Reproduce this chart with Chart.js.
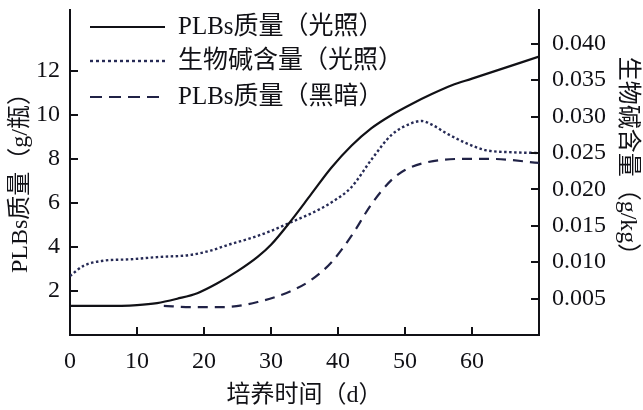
<!DOCTYPE html>
<html>
<head>
<meta charset="utf-8">
<script src="https://cdn.jsdelivr.net/npm/chart.js@4/dist/chart.umd.min.js"></script>
<style>
  html, body { margin: 0; padding: 0; background: #ffffff; }
  canvas { display: block; }
</style>
</head>
<body>
<canvas id="c" width="643" height="410"></canvas>
<script>
// PLBs fresh mass under light (g/bottle)
const lightDays = [0, 5, 10, 13, 16, 19, 22, 25, 28, 30, 33, 36, 39, 42, 45, 48, 51, 54, 57, 60, 65, 70];
const lightMass = [1.32, 1.32, 1.36, 1.45, 1.65, 1.9, 2.35, 2.9, 3.55, 4.1, 5.2, 6.4, 7.6, 8.6, 9.4, 10.0, 10.5, 10.95, 11.35, 11.65, 12.15, 12.65];

// Alkaloid content under light (g/kg)
const alkaloidDays = [0, 2, 5, 9, 13, 18, 21, 24, 27, 30, 33, 36, 39, 42, 45, 48, 51, 52.5, 54, 56, 59, 62, 66, 70];
const alkaloidContent = [0.0081, 0.0095, 0.0102, 0.0104, 0.0107, 0.0110, 0.0116, 0.0125, 0.0133, 0.0143, 0.0155, 0.0167, 0.0182, 0.0203, 0.0241, 0.0275, 0.0291, 0.0294, 0.0289, 0.0278, 0.0264, 0.0254, 0.0251, 0.0250];

// PLBs fresh mass in darkness (g/bottle)
const darkDays = [14, 18, 23, 28, 33, 36, 39, 42, 45, 48, 50, 53, 58, 63, 70];
const darkMass = [1.32, 1.27, 1.27, 1.5, 2.0, 2.5, 3.3, 4.5, 5.95, 7.05, 7.5, 7.83, 8.0, 8.0, 7.82];

// Axis ticks
const dayTicks = [0, 10, 20, 30, 40, 50, 60];
const massTicks = [2, 4, 6, 8, 10, 12];
const alkaloidTicks = [0.005, 0.010, 0.015, 0.020, 0.025, 0.030, 0.035, 0.040];

// Text
const seriesLabels = ['PLBs质量（光照）', '生物碱含量（光照）', 'PLBs质量（黑暗）'];
const xTitle = '培养时间（d）';
const yTitle = 'PLBs质量（g/瓶）';
const y1Title = '生物碱含量（g/kg）';

const INK = '#111116';
const FONT = '"Liberation Serif", "Noto Sans CJK SC", serif';

const toPoints = (xs, ys) => xs.map((x, i) => ({ x: x, y: ys[i] }));

// Keep the plot box fixed: no extra room reserved for edge labels
const noEdgePadding = s => {
  s.paddingTop = 0;
  s.paddingBottom = 0;
  s.paddingLeft = 0;
  s.paddingRight = 0;
};

// Short inward tick marks on the three axes
const innerTicks = {
  id: 'innerTicks',
  afterDraw(chart) {
    const ctx = chart.ctx;
    const len = 8;
    ctx.save();
    ctx.strokeStyle = INK;
    ctx.lineWidth = 2;
    ctx.beginPath();
    const xs = chart.scales.x;
    xs.ticks.forEach(t => {
      if (t.value === 0) return;
      const px = Math.round(xs.getPixelForValue(t.value));
      ctx.moveTo(px, xs.top);
      ctx.lineTo(px, xs.top - len);
    });
    const ys = chart.scales.y;
    ys.ticks.forEach(t => {
      const py = Math.round(ys.getPixelForValue(t.value));
      ctx.moveTo(ys.right, py);
      ctx.lineTo(ys.right + len, py);
    });
    const y1 = chart.scales.y1;
    y1.ticks.forEach(t => {
      const py = Math.round(y1.getPixelForValue(t.value));
      ctx.moveTo(y1.left, py);
      ctx.lineTo(y1.left - len, py);
    });
    ctx.stroke();
    ctx.restore();
  }
};

// Vertical axis titles: left one reads upward, right one reads downward
const sideTitles = {
  id: 'sideTitles',
  afterDraw(chart) {
    const ctx = chart.ctx;
    ctx.save();
    ctx.fillStyle = INK;
    ctx.font = '24px ' + FONT;
    ctx.textAlign = 'center';
    ctx.textBaseline = 'middle';

    ctx.save();
    ctx.translate(21, 177);
    ctx.rotate(-Math.PI / 2);
    ctx.fillText(yTitle, 0, 0);
    ctx.restore();

    ctx.save();
    ctx.translate(627, 162);
    ctx.rotate(Math.PI / 2);
    ctx.fillText(y1Title, 0, 0);
    ctx.restore();

    ctx.restore();
  }
};

// Legend block at the upper left of the plot
const lineLegend = {
  id: 'lineLegend',
  afterDraw(chart) {
    const ctx = chart.ctx;
    const rows = [27, 61, 97];
    ctx.save();
    chart.data.datasets.forEach((ds, i) => {
      const y = rows[i];
      ctx.strokeStyle = ds.borderColor;
      ctx.lineWidth = ds.borderWidth;
      ctx.setLineDash(ds.legendDash || ds.borderDash || []);
      ctx.beginPath();
      ctx.moveTo(90, y);
      ctx.lineTo(165, y);
      ctx.stroke();
      ctx.setLineDash([]);
      ctx.fillStyle = INK;
      ctx.font = '25px ' + FONT;
      ctx.textBaseline = 'middle';
      ctx.textAlign = 'left';
      ctx.fillText(ds.label, 178, y);
    });
    ctx.restore();
  }
};

new Chart(document.getElementById('c'), {
  type: 'line',
  data: {
    datasets: [
      {
        label: seriesLabels[0],
        data: toPoints(lightDays, lightMass),
        yAxisID: 'y',
        borderColor: INK,
        borderWidth: 2.2,
        pointRadius: 0,
        cubicInterpolationMode: 'monotone'
      },
      {
        label: seriesLabels[1],
        data: toPoints(alkaloidDays, alkaloidContent),
        yAxisID: 'y1',
        borderColor: '#262a55',
        borderWidth: 2.4,
        borderDash: [2.5, 2.5],
        legendDash: [3, 3],
        pointRadius: 0,
        cubicInterpolationMode: 'monotone'
      },
      {
        label: seriesLabels[2],
        data: toPoints(darkDays, darkMass),
        yAxisID: 'y',
        borderColor: '#202246',
        borderWidth: 2.2,
        borderDash: [10, 7],
        legendDash: [12, 7],
        pointRadius: 0,
        cubicInterpolationMode: 'monotone'
      }
    ]
  },
  options: {
    responsive: false,
    animation: false,
    devicePixelRatio: 1,
    layout: { padding: { top: 10, left: 0, right: 0, bottom: 0 } },
    plugins: {
      legend: { display: false },
      tooltip: { enabled: false }
    },
    scales: {
      x: {
        type: 'linear',
        position: 'bottom',
        min: 0,
        max: 70,
        afterBuildTicks: s => { s.ticks = dayTicks.map(v => ({ value: v })); },
        afterFit: s => { s.height = 75; noEdgePadding(s); },
        grid: { display: false, drawTicks: false },
        border: { display: true, color: INK, width: 2 },
        ticks: { color: INK, padding: 12, font: { family: FONT, size: 24 }, maxRotation: 0 },
        title: { display: true, text: xTitle, color: INK, font: { family: FONT, size: 24 }, padding: { top: 0, bottom: 0 } }
      },
      y: {
        type: 'linear',
        position: 'left',
        min: 0,
        max: 14.77,
        afterBuildTicks: s => { s.ticks = massTicks.map(v => ({ value: v })); },
        afterFit: s => { s.width = 70; noEdgePadding(s); },
        grid: { display: false, drawTicks: false },
        border: { display: true, color: INK, width: 2 },
        ticks: { color: INK, padding: 10, font: { family: FONT, size: 24 } }
      },
      y1: {
        type: 'linear',
        position: 'right',
        min: 0,
        max: 0.04464,
        afterBuildTicks: s => { s.ticks = alkaloidTicks.map(v => ({ value: v })); },
        afterFit: s => { s.width = 104; noEdgePadding(s); },
        grid: { display: false, drawTicks: false },
        border: { display: true, color: INK, width: 2 },
        ticks: { color: INK, padding: 13, font: { family: FONT, size: 24 }, callback: v => v.toFixed(3) }
      }
    }
  },
  plugins: [innerTicks, sideTitles, lineLegend]
});
</script>
</body>
</html>
